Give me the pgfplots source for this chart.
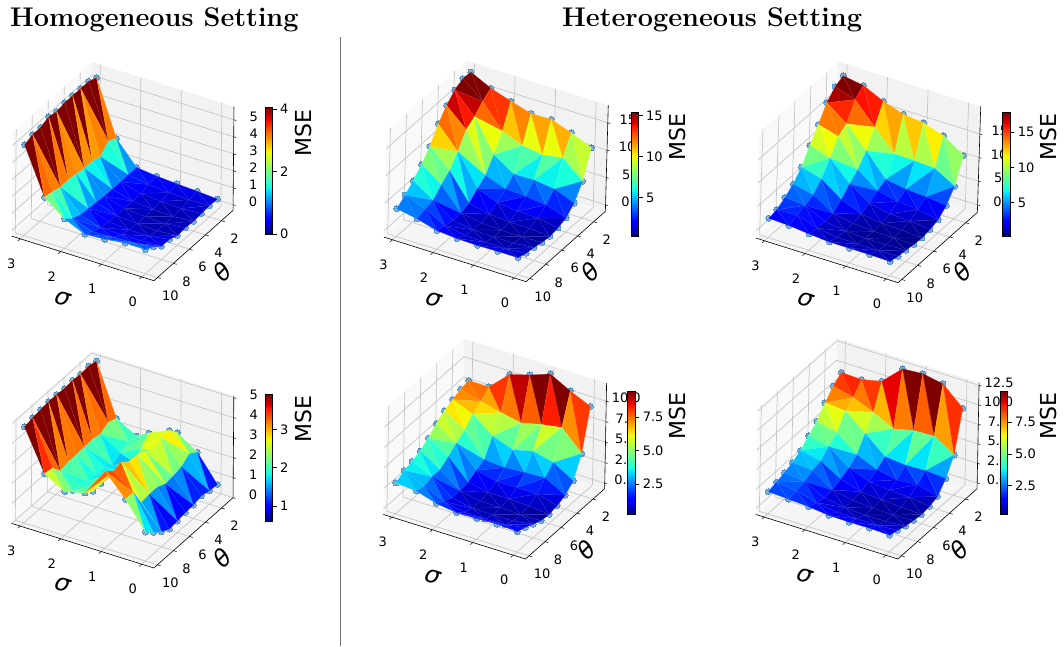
\documentclass[border=0pt]{standalone}
\usepackage{fontspec}
\usepackage{pgfplots}
\usepackage{pgfplotstable}
\pgfplotsset{compat=1.18}
\newfontfamily\dv{DejaVu Sans}
\definecolor{cz}{RGB}{31,119,180}
\pgfdeclareverticalshading{jetbar}{100bp}{rgb(0bp)=(0,0,.5); rgb(25bp)=(0,0,.5); rgb(30.5bp)=(0,0,1); rgb(31.25bp)=(0,0,1); rgb(42bp)=(0,.86,1); rgb(43.75bp)=(.08,1,.887); rgb(57bp)=(.935,1,.032); rgb(58bp)=(1,.926,0); rgb(69.5bp)=(1,.074,0); rgb(70.5bp)=(.909,0,0); rgb(75bp)=(.5,0,0); rgb(100bp)=(.5,0,0)}
% z grids: rows sigma=0,0.5,...,3; columns theta=1..10
\pgfplotstableread{
x y z
0 1 .30
0 2 .33
0 3 .28
0 4 .24
0 5 .28
0 6 .24
0 7 .43
0 8 .45
0 9 .83
0 10 1.08
.5 1 .39
.5 2 .30
.5 3 .20
.5 4 .15
.5 5 .15
.5 6 .15
.5 7 .25
.5 8 .40
.5 9 .70
.5 10 1.10
1 1 .45
1 2 .35
1 3 .25
1 4 .20
1 5 .20
1 6 .20
1 7 .25
1 8 .40
1 9 .65
1 10 .95
1.5 1 .53
1.5 2 .45
1.5 3 .35
1.5 4 .30
1.5 5 .30
1.5 6 .30
1.5 7 .35
1.5 8 .42
1.5 9 .60
1.5 10 .87
2 1 .67
2 2 .65
2 3 .65
2 4 .65
2 5 .65
2 6 .70
2 7 .75
2 8 .80
2 9 1.0
2 10 1.4
2.5 1 2.0
2.5 2 2.25
2.5 3 1.75
2.5 4 1.9
2.5 5 1.9
2.5 6 2.0
2.5 7 2.06
2.5 8 2.04
2.5 9 2.2
2.5 10 2.3
3 1 5.2
3 2 5.4
3 3 5.4
3 4 5.4
3 5 5.4
3 6 5.3
3 7 5.4
3 8 5.2
3 9 5.2
3 10 5.0
}\tA
\pgfplotstableread{
x y z
0 1 .63
0 2 .67
0 3 .77
0 4 .67
0 5 .65
0 6 .58
0 7 .53
0 8 .75
0 9 1.07
0 10 1.45
.5 1 1.93
.5 2 2.2
.5 3 1.9
.5 4 1.8
.5 5 1.75
.5 6 1.95
.5 7 1.95
.5 8 1.9
.5 9 2.75
.5 10 2.77
1 1 2.58
1 2 3.05
1 3 3.05
1 4 2.8
1 5 3.05
1 6 3.25
1 7 3.25
1 8 3.6
1 9 3.5
1 10 3.85
1.5 1 2.1
1.5 2 2.6
1.5 3 2.2
1.5 4 1.9
1.5 5 1.7
1.5 6 2.1
1.5 7 2.3
1.5 8 2.2
1.5 9 2.18
1.5 10 2.45
2 1 1.78
2 2 1.85
2 3 1.65
2 4 1.4
2 5 1.65
2 6 1.65
2 7 1.65
2 8 1.8
2 9 1.9
2 10 2.2
2.5 1 2.35
2.5 2 2.5
2.5 3 2.27
2.5 4 2.35
2.5 5 2.33
2.5 6 2.3
2.5 7 2.3
2.5 8 2.2
2.5 9 2.7
2.5 10 2.78
3 1 4.9
3 2 5
3 3 4.95
3 4 5
3 5 4.95
3 6 5
3 7 5
3 8 4.95
3 9 4.9
3 10 4.8
}\tB
\pgfplotstableread{
x y z
0 1 10.3
0 2 5.5
0 3 2.8
0 4 1.4
0 5 .85
0 6 .6
0 7 .8
0 8 1.15
0 9 1.4
0 10 1.9
.5 1 11.9
.5 2 8.6
.5 3 4.2
.5 4 2.6
.5 5 1.5
.5 6 .9
.5 7 .7
.5 8 .8
.5 9 1.1
.5 10 1.9
1 1 13.2
1 2 8
1 3 4.7
1 4 3
1 5 1.6
1 6 .9
1 7 .7
1 8 .8
1 9 1.1
1 10 1.8
1.5 1 13.1
1.5 2 8.5
1.5 3 4.6
1.5 4 3.2
1.5 5 2
1.5 6 1.2
1.5 7 .9
1.5 8 .9
1.5 9 1.2
1.5 10 1.9
2 1 14.2
2 2 10
2 3 7
2 4 4.5
2 5 3.4
2 6 2
2 7 1.5
2 8 1.5
2 9 1.8
2 10 2.2
2.5 1 15.4
2.5 2 14.3
2.5 3 12.8
2.5 4 11.7
2.5 5 9
2.5 6 6.8
2.5 7 5.5
2.5 8 4
2.5 9 3.7
2.5 10 3.2
3 1 17.2
3 2 17.3
3 3 16.5
3 4 15
3 5 12.9
3 6 10.1
3 7 8.1
3 8 6.4
3 9 5.1
3 10 3.9
}\tC
\pgfplotstableread{
x y z
0 1 10.3
0 2 5.3
0 3 2.7
0 4 1.2
0 5 .65
0 6 .37
0 7 .5
0 8 .8
0 9 1
0 10 1.4
.5 1 13.1
.5 2 7.7
.5 3 3.2
.5 4 2
.5 5 1.1
.5 6 .7
.5 7 .55
.5 8 .6
.5 9 .9
.5 10 1.5
1 1 14.5
1 2 8
1 3 3.5
1 4 2.4
1 5 1.3
1 6 .8
1 7 .6
1 8 .6
1 9 .9
1 10 1.5
1.5 1 15
1.5 2 8.1
1.5 3 4.2
1.5 4 3.3
1.5 5 2.2
1.5 6 1.4
1.5 7 .9
1.5 8 .8
1.5 9 1
1.5 10 1.5
2 1 16.4
2 2 12.4
2 3 8.9
2 4 6.4
2 5 4.9
2 6 3.1
2 7 1.7
2 8 1.5
2 9 1.6
2 10 1.85
2.5 1 18.4
2.5 2 16.9
2.5 3 13.3
2.5 4 12.1
2.5 5 9
2.5 6 6.1
2.5 7 4.25
2.5 8 3.5
2.5 9 3
2.5 10 2.3
3 1 19.1
3 2 18.3
3 3 16.4
3 4 13.3
3 5 10.4
3 6 7.3
3 7 5.2
3 8 3.9
3 9 2.8
3 10 2.5
}\tD
\pgfplotstableread{
x y z
0 1 9.3
0 2 4.4
0 3 1.95
0 4 1.05
0 5 .65
0 6 .45
0 7 .55
0 8 1
0 9 1.45
0 10 1.8
.5 1 10.4
.5 2 6.8
.5 3 3.4
.5 4 2.4
.5 5 1.3
.5 6 .7
.5 7 .5
.5 8 .6
.5 9 1
.5 10 1.95
1 1 11.7
1 2 6.4
1 3 4
1 4 2.3
1 5 1.3
1 6 .8
1 7 .6
1 8 .6
1 9 .95
1 10 1.85
1.5 1 10.8
1.5 2 5.8
1.5 3 3.4
1.5 4 2.1
1.5 5 1.3
1.5 6 .8
1.5 7 .6
1.5 8 .6
1.5 9 1
1.5 10 1.8
2 1 10.1
2 2 6.3
2 3 4.3
2 4 2.3
2 5 1.85
2 6 1.25
2 7 1.1
2 8 1.1
2 9 1.5
2 10 2.15
2.5 1 7.8
2.5 2 6.9
2.5 3 6.2
2.5 4 5.1
2.5 5 4.4
2.5 6 3.6
2.5 7 2.9
2.5 8 2.9
2.5 9 2.6
2.5 10 2.9
3 1 7.8
3 2 7.6
3 3 7.2
3 4 6.7
3 5 6
3 6 5.1
3 7 4.4
3 8 4
3 9 3.75
3 10 3.1
}\tE
\pgfplotstableread{
x y z
0 1 9.5
0 2 4.4
0 3 2.3
0 4 .9
0 5 .55
0 6 .4
0 7 .55
0 8 .75
0 9 1.1
0 10 1.4
.5 1 11.8
.5 2 6
.5 3 2.5
.5 4 1.6
.5 5 .9
.5 6 .55
.5 7 .45
.5 8 .55
.5 9 .95
.5 10 1.5
1 1 12.3
1 2 5.9
1 3 2.4
1 4 1.4
1 5 1
1 6 .7
1 7 .5
1 8 .55
1 9 .95
1 10 1.45
1.5 1 12.1
1.5 2 5.3
1.5 3 2.65
1.5 4 1.9
1.5 5 1.3
1.5 6 .9
1.5 7 .7
1.5 8 .7
1.5 9 1
1.5 10 1.5
2 1 9.7
2 2 6.6
2 3 4.8
2 4 3
2 5 2.2
2 6 1.7
2 7 1.2
2 8 1.1
2 9 1.4
2 10 1.8
2.5 1 9.1
2.5 2 7.7
2.5 3 6.9
2.5 4 5
2.5 5 4.15
2.5 6 3.2
2.5 7 2.9
2.5 8 2.4
2.5 9 2.1
2.5 10 1.95
3 1 9.2
3 2 8.35
3 3 7.1
3 4 5.65
3 5 4.7
3 6 3.75
3 7 3.1
3 8 2.7
3 9 2.4
3 10 2.1
}\tF
% triangulation: vertex rows of the tables, far strips first
\def\trisrc{60/61/51,60/50/51,62/61/51,62/52/51,62/63/53,62/52/53,63/64/54,63/53/54,65/64/54,65/55/54,65/66/56,65/55/56,66/67/57,66/56/57,68/67/57,68/58/57,68/69/59,68/58/59,
50/51/41,50/40/41,52/51/41,52/42/41,52/53/43,52/42/43,54/53/43,54/44/43,54/55/45,54/44/45,55/56/46,55/45/46,57/56/46,57/47/46,57/58/48,57/47/48,58/59/49,58/48/49,
40/41/31,40/30/31,42/41/31,42/32/31,42/43/33,42/32/33,44/43/33,44/34/33,44/45/35,44/34/35,46/45/35,46/36/35,46/47/37,46/36/37,48/47/37,48/38/37,48/49/39,48/38/39,
30/31/21,30/20/21,32/31/21,32/22/21,32/33/23,32/22/23,34/33/23,34/24/23,34/35/25,34/24/25,35/36/26,35/25/26,37/36/26,37/27/26,37/38/28,37/27/28,39/38/28,39/29/28,
20/21/11,20/10/11,22/21/11,22/12/11,22/23/13,22/12/13,24/23/13,24/14/13,25/24/14,25/15/14,25/26/16,25/15/16,27/26/16,27/17/16,27/28/18,27/17/18,29/28/18,29/19/18,
10/11/1,10/0/1,12/11/1,12/2/1,12/13/3,12/2/3,14/13/3,14/4/3,14/15/5,14/4/5,16/15/5,16/6/5,16/17/7,16/6/7,18/17/7,18/8/7,18/19/9,18/8/9}
\newcommand\getv[4]{% row, table, macro receiving (x,y,z), macro receiving z
 \pgfplotstablegetelem{#1}{x}\of{#2}\let\vx\pgfplotsretval
 \pgfplotstablegetelem{#1}{y}\of{#2}\let\vy\pgfplotsretval
 \pgfplotstablegetelem{#1}{z}\of{#2}\let\vz\pgfplotsretval
 \edef#3{(\vx,\vy,\vz)}\let#4\vz}
% #1 table, #2 bar min, #3 bar max: one filled triangle plot per triangle, jet colour of the mean z
\newcommand\buildtris[3]{%
 \gdef\allplots{}%
 \foreach \ta/\tb/\tc in \trisrc {%
  \getv{\ta}{#1}\pa\za \getv{\tb}{#1}\pb\zb \getv{\tc}{#1}\pc\zc
  \pgfmathsetmacro\ttt{max(0,min(1,((\za+\zb+\zc)/3-#2)/(#3-#2)))}%
  \pgfmathsetmacro\colR{\ttt<.35?0:(\ttt<.66?(\ttt-.35)/.31:(\ttt<.89?1:1-.5*(\ttt-.89)/.11))}%
  \pgfmathsetmacro\colG{\ttt<.125?0:(\ttt<.375?(\ttt-.125)/.25:(\ttt<.64?1:(\ttt<.91?1-(\ttt-.64)/.27:0)))}%
  \pgfmathsetmacro\colB{\ttt<.11?.5+.5*\ttt/.11:(\ttt<.34?1:(\ttt<.65?1-(\ttt-.34)/.31:0))}%
  \pgfmathsetmacro\lnR{\colR+.2*(1-\colR)}%
  \pgfmathsetmacro\lnG{\colG+.2*(1-\colG)}%
  \pgfmathsetmacro\lnB{\colB+.2*(1-\colB)}%
  \xdef\allplots{\unexpanded\expandafter{\allplots}\noexpand\addplot3[no markers,line width=.25pt,
    draw={rgb,1:red,\lnR;green,\lnG;blue,\lnB},fill={rgb,1:red,\colR;green,\colG;blue,\colB}]
    coordinates {\pa\pb\pc\pa};}}}
\pgfplotsset{
 tickf/.style={font=\fontsize{13}{13}\dv},
 /pgf/number format/assume math mode=true,
 box3d/.style n args={5}{at={(#1pt,#2pt)},anchor=south west,
  x={(-40.5pt,12.7pt)},y={(-8pt,-7.1pt)},z={(0.15pt,#3pt)},
  xmin=-0.3,xmax=3.21,ymin=0.55,ymax=10.45,zmin=#4,zmax=#5,
  xtick=\empty,ytick=\empty,ztick=\empty,
  axis line style={draw=none},
  clip=false}}
% #1 table #2 x #3 y #4 zunit #5 zmin #6 zmax #7 zticks #8 barmin #9 barmax
\newcommand\panel[9]{%
\buildtris{#1}{#8}{#9}%
\begin{axis}[box3d={#2}{#3}{#4}{#5}{#6}]
\fill[black!2.5] (axis cs:3.21,0.55,#5)--(axis cs:3.21,10.45,#5)--(axis cs:3.21,10.45,#6)--(axis cs:3.21,0.55,#6)--cycle;
\fill[black!5] (axis cs:3.21,0.55,#5)--(axis cs:-0.3,0.55,#5)--(axis cs:-0.3,0.55,#6)--(axis cs:3.21,0.55,#6)--cycle;
\fill[black!4] (axis cs:3.21,0.55,#5)--(axis cs:-0.3,0.55,#5)--(axis cs:-0.3,10.45,#5)--(axis cs:3.21,10.45,#5)--cycle;
\pgfplotsinvokeforeach{0,1,2,3}{%
 \draw[gray!45,line width=.7pt] (axis cs:##1,10.45,#5)--(axis cs:##1,0.55,#5)--(axis cs:##1,0.55,#6);}
\pgfplotsinvokeforeach{2,4,6,8,10}{%
 \draw[gray!45,line width=.7pt] (axis cs:-0.3,##1,#5)--(axis cs:3.21,##1,#5)--(axis cs:3.21,##1,#6);}
\pgfplotsinvokeforeach{#7}{%
 \draw[gray!45,line width=.7pt] (axis cs:3.21,10.45,##1)--(axis cs:3.21,0.55,##1)--(axis cs:-0.3,0.55,##1);}
\draw[black,line width=.6pt] (axis cs:3.21,10.45,#5)--(axis cs:-0.3,10.45,#5)--(axis cs:-0.3,0.55,#5)--(axis cs:-0.3,0.55,#6);
\pgfplotsinvokeforeach{0,1,2,3}{%
 \draw[black,line width=.5pt] (axis cs:##1,10.45,#5)--(axis cs:##1,10.75,#5);
 \node[font=\fontsize{13}{13}\dv,xshift=-9pt,yshift=-25pt] at (axis cs:##1,10.45,#5) {##1};}
\pgfplotsinvokeforeach{2,4,6,8,10}{%
 \draw[black,line width=.5pt] (axis cs:-0.3,##1,#5)--(axis cs:-0.38,##1,#5);
 \node[font=\fontsize{13}{13}\dv,xshift=13pt,yshift=-18pt] at (axis cs:-0.3,##1,#5) {##1};}
\pgfplotsinvokeforeach{#7}{%
 \draw[black,line width=.5pt] (axis cs:-0.3,0.55,##1)--(axis cs:-0.36,0.55,##1);
 \node[font=\fontsize{13}{13}\dv,xshift=20pt,yshift=3pt] at (axis cs:-0.3,0.55,##1) {\pgfmathprintnumber[fixed,fixed zerofill,precision=\zprec]{##1}};}
\addplot3[only marks,mark=*,mark size=3pt,draw=cz,
 mark options={fill=cz,draw=cz,line width=0pt,opacity=.55}]
 table[x=x,y=y,z=z] {#1};
\end{axis}
\begin{axis}[box3d={#2}{#3}{#4}{#5}{#6}]
\allplots
\end{axis}}
% #1 x #2 y(bottom) #3 height #4 min #5 max #6 ticks
\newcommand\cbar[6]{%
\begin{axis}[at={(#1pt,#2pt)},anchor=south west,scale only axis,width=7.3pt,height=#3pt,
 xmin=0,xmax=1,ymin=#4,ymax=#5,xtick=\empty,ytick={#6},
 ytick pos=right,yticklabel pos=right,tick align=outside,axis on top,
 tick style={black,line width=.5pt},tick label style={tickf},
 axis line style={line width=.5pt},
 y tick label style={/pgf/number format/.cd,fixed,fixed zerofill,precision=\zprec}]
\shade[shading=jetbar] (axis cs:0,#4) rectangle (axis cs:1,#5);
\end{axis}}
\begin{document}
\begin{tikzpicture}[x=1pt,y=1pt]
\useasboundingbox (0,0) rectangle (1064,646);
\node[anchor=base west,inner sep=0pt,font=\fontsize{27}{27}\bfseries] at (10,619) {Homogeneous Setting};
\node[anchor=base west,inner sep=0pt,font=\fontsize{27}{27}\bfseries] at (562,619) {Heterogeneous Setting};
\draw[gray!90!black,line width=.8pt] (340.5,0) -- (340.5,609);
\def\zprec{0}
\panel{\tA}{11.7}{365.3}{17}{-0.33}{5.78}{0,1,2,3,4,5}{0}{4.05}
\panel{\tB}{11.7}{78}{20}{0}{5.1}{0,1,2,3,4,5}{0.59}{3.92}
\panel{\tC}{384}{364.3}{5.47}{-1.2}{18.2}{0,5,10,15}{0.33}{15.4}
\panel{\tD}{756}{363.3}{4.73}{-1.6}{20.8}{0,5,10,15}{0.28}{17.8}
\cbar{265}{412}{126.7}{0}{4.05}{0,2,4}
\cbar{265}{124.3}{127.7}{0.59}{3.92}{1,2,3}
\cbar{631}{410}{123.7}{0.33}{15.4}{5,10,15}
\cbar{1002.7}{410}{123.7}{0.28}{17.8}{5,10,15}
\def\zprec{1}
\panel{\tE}{383.3}{87}{8.2}{-0.67}{12.2}{0,2.5,5,7.5,10}{0.25}{9.4}
\panel{\tF}{755.7}{87}{7.8}{-0.75}{12.85}{0,2.5,5,7.5,10,12.5}{0.26}{9.9}
\cbar{627.7}{132}{122.3}{0.25}{9.4}{2.5,5,7.5}
\cbar{1000}{132}{122.3}{0.26}{9.9}{2.5,5,7.5}
\foreach \xx/\yy in {303/513,303/227,677/509,1048/509,677/230,1048/230}
 \node[rotate=90,font=\fontsize{22}{22}\dv] at (\xx,\yy) {MSE};
\foreach \xx/\yy in {62.7/347.7,62.7/61,433.3/346.7,805.7/346.7,432.3/69.3,804.3/70}
 \node[rotate=-18,font=\fontsize{24}{24}\dv\itshape] at (\xx,\yy) {σ};
\foreach \xx/\yy in {222.7/374.3,222.7/87.7,590/374.3,962.7/374.3,586.7/96,959/96}
 \node[rotate=45,font=\fontsize{24}{24}\dv\itshape] at (\xx,\yy) {θ};
\end{tikzpicture}
\end{document}
